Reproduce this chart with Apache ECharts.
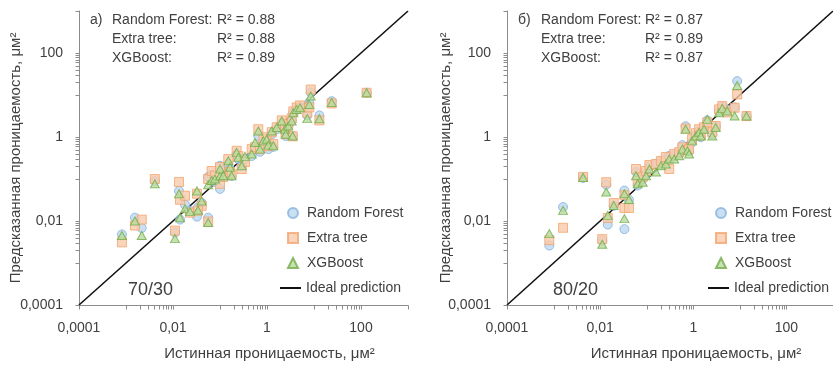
<!DOCTYPE html>
<html>
<head>
<meta charset="utf-8">
<script src="https://cdn.jsdelivr.net/npm/echarts@6/dist/echarts.min.js"></script>
<style>
  html, body { margin: 0; padding: 0; background: #fff; }
  #chart { width: 833px; height: 366px; }
</style>
</head>
<body>
<div id="chart"></div>
<script>
// ---- Split 70/30: true permeability and model predictions (μм²) ----
const trueA = [0.00082, 0.00155, 0.00216, 0.0041, 0.011, 0.0134, 0.0141, 0.018, 0.023, 0.0324,
  0.0408, 0.034, 0.056, 0.056, 0.0665, 0.078, 0.100, 0.100, 0.1175, 0.150,
  0.163, 0.177, 0.226, 0.245, 0.290, 0.340, 0.472, 0.556, 0.653, 0.710,
  0.834, 0.986, 1.07, 1.36, 1.26, 1.61, 2.06, 2.42, 2.50, 2.84,
  3.36, 3.52, 3.63, 4.29, 5.04, 7.20, 7.94, 8.51, 13.0, 23.8, 132];
const rfA = [0.0048, 0.012, 0.0068, 0.090, 0.0053, 0.052, 0.0108, 0.0244, 0.0176, 0.0127,
  0.027, 0.021, 0.012, 0.112, 0.125, 0.085, 0.058, 0.207, 0.155, 0.228,
  0.173, 0.118, 0.392, 0.298, 0.204, 0.298, 0.352, 0.515, 1.04, 0.445,
  0.753, 0.839, 0.515, 0.58, 1.16, 1.53, 2.12, 1.39, 1.06, 1.83,
  2.40, 1.06, 3.79, 4.54, 5.35, 3.27, 6.65, 11.5, 3.27, 7.13, 11.3];
const etA = [0.0031, 0.0078, 0.0108, 0.100, 0.0059, 0.085, 0.032, 0.040, 0.0158, 0.0445,
  0.023, 0.0176, 0.0097, 0.100, 0.155, 0.120, 0.077, 0.193, 0.112, 0.298,
  0.147, 0.132, 0.469, 0.352, 0.173, 0.254, 0.515, 0.574, 1.53, 0.515,
  0.887, 0.988, 0.607, 0.676, 1.30, 1.71, 2.49, 1.61, 1.16, 2.01,
  2.78, 1.04, 4.07, 5.06, 5.65, 3.79, 5.06, 13.5, 2.49, 6.30, 11.3];
const xgbA = [0.0045, 0.0100, 0.0045, 0.077, 0.0038, 0.0445, 0.012, 0.0196, 0.0167, 0.052,
  0.030, 0.018, 0.0092, 0.073, 0.092, 0.100, 0.118, 0.173, 0.120, 0.272,
  0.190, 0.120, 0.431, 0.327, 0.207, 0.346, 0.392, 0.741, 1.39, 0.515,
  0.809, 0.887, 0.640, 0.617, 1.39, 1.68, 2.40, 1.53, 1.16, 1.83,
  2.40, 1.06, 3.79, 4.54, 4.98, 2.74, 5.96, 9.47, 2.71, 6.65, 11.3];

// ---- Split 80/20 ----
const trueB = [0.00081, 0.0016, 0.0043, 0.0111, 0.0135, 0.0146, 0.0196, 0.0332, 0.0332, 0.0415,
  0.059, 0.064, 0.082, 0.097, 0.114, 0.158, 0.202, 0.258, 0.304, 0.389,
  0.498, 0.585, 0.748, 0.684, 0.813, 0.942, 1.13, 1.33, 1.45, 1.70,
  2.00, 2.56, 3.03, 3.56, 4.19, 5.35, 7.71, 8.75, 13.9];
const rfB = [0.0026, 0.0215, 0.106, 0.0034, 0.073, 0.0082, 0.0231, 0.053, 0.0064, 0.032,
  0.147, 0.070, 0.100, 0.132, 0.193, 0.228, 0.254, 0.298, 0.357, 0.352,
  0.392, 0.640, 0.515, 1.80, 0.461, 0.741, 1.10, 1.37, 0.988, 1.53,
  2.49, 1.16, 1.80, 4.07, 5.35, 4.54, 5.06, 21.4, 3.15];
const etB = [0.0035, 0.0069, 0.112, 0.0037, 0.084, 0.0118, 0.0268, 0.041, 0.0204, 0.0204,
  0.173, 0.090, 0.112, 0.155, 0.215, 0.228, 0.268, 0.333, 0.173, 0.392,
  0.438, 0.565, 0.488, 1.59, 0.515, 0.887, 1.23, 1.53, 1.10, 1.71,
  2.24, 1.30, 1.83, 4.54, 5.44, 3.86, 4.98, 10.3, 3.15];
const xgbB = [0.0050, 0.0179, 0.109, 0.0028, 0.049, 0.0136, 0.0235, 0.0445, 0.0114, 0.0326,
  0.120, 0.077, 0.084, 0.120, 0.173, 0.147, 0.207, 0.228, 0.298, 0.298,
  0.357, 0.515, 0.469, 1.53, 0.392, 0.809, 1.06, 1.30, 1.06, 1.53,
  2.63, 1.06, 1.68, 3.79, 4.80, 4.14, 3.15, 16.8, 3.15];

// ---- Text ----
const modelNames = ['Random Forest', 'Extra tree', 'XGBoost'];
const idealName = 'Ideal prediction';
const r2A = ['0.88', '0.88', '0.89'];
const r2B = ['0.87', '0.89', '0.87'];
const panelTags = ['а)', 'б)'];
const splitLabels = ['70/30', '80/20'];
const axisRange = [0.0001, 1000];
const tickLabels = [0.0001, 0.01, 1, 100];
const xTitle = 'Истинная проницаемость, μм²';
const yTitle = 'Предсказанная проницаемость, μм²';

// tick marks: each labelled value plus its 10..90 multiples (log axis, base 100)
const tickValues = [];
tickLabels.forEach(v => {
  tickValues.push(v);
  for (let n = 1; n <= 9; n++) {
    const t = +(v * 10 * n).toPrecision(4);
    if (t <= axisRange[1]) tickValues.push(t);
  }
});

const FONT = 'Liberation Sans, Arial, sans-serif';
const TXT = '#404040';
const AXIS = '#8c8c8c';

const pair = (xs, ys) => xs.map((x, i) => [x, ys[i]]);
const fmt = v => String(+(+v).toPrecision(6)).replace('.', ',');

const styles = [
  { symbol: 'circle', symbolSize: 9, itemStyle: { color: '#BDD7EE', borderColor: '#86B2DE', borderWidth: 1 } },
  { symbol: 'rect', symbolSize: 9, itemStyle: { color: '#F8CBAD', borderColor: '#F4A46C', borderWidth: 1 } },
  { symbol: 'triangle', symbolSize: [9, 8], itemStyle: { color: '#B9DB9F', borderColor: '#70AD47', borderWidth: 1 } }
];

const grids = [
  { left: 79, top: 11, width: 329, height: 296 },
  { left: 507, top: 11, width: 328, height: 296 }
];

function axisCommon(isX, gi) {
  return {
    type: 'log', logBase: 100, gridIndex: gi,
    min: axisRange[0], max: axisRange[1],
    name: isX ? xTitle : yTitle,
    nameLocation: 'middle',
    nameMoveOverlap: false,
    nameGap: isX ? 41 : (gi === 0 ? 56 : 54),
    nameTextStyle: isX
      ? { fontSize: 15, color: TXT, fontFamily: FONT, padding: [0, 0, 0, 52] }
      : { fontSize: 15, color: TXT, fontFamily: FONT },
    axisLine: { show: true, onZero: false, lineStyle: { color: AXIS, width: 1 } },
    axisTick: { show: false },
    axisLabel: { customValues: tickLabels, formatter: fmt, fontSize: 14, color: TXT, fontFamily: FONT, margin: 16 },
    splitLine: { show: false },
    minorTick: { show: false }
  };
}

// small outward tick marks placed through the axis scale
function tickSeries(gi, isX) {
  return {
    type: 'custom', xAxisIndex: gi, yAxisIndex: gi, silent: true, z: 1,
    data: tickValues.map(v => isX ? [v, axisRange[0]] : [axisRange[0], v]),
    renderItem: (params, api) => {
      const p = api.coord([api.value(0), api.value(1)]);
      const x = Math.round(p[0]) + 0.5, y = Math.round(p[1]) + 0.5;
      return {
        type: 'line',
        shape: isX ? { x1: x, y1: y, x2: x, y2: y + 4 } : { x1: x - 4, y1: y, x2: x, y2: y },
        style: { stroke: AXIS, lineWidth: 1 }
      };
    }
  };
}

const datasets = [
  { x: trueA, ys: [rfA, etA, xgbA] },
  { x: trueB, ys: [rfB, etB, xgbB] }
];

const series = [];
datasets.forEach((d, gi) => {
  d.ys.forEach((ys, k) => {
    series.push(Object.assign({
      type: 'scatter', name: modelNames[k],
      xAxisIndex: gi, yAxisIndex: gi,
      data: pair(d.x, ys),
      z: 3 + k
    }, styles[k]));
  });
  series.push({
    type: 'line', name: idealName,
    xAxisIndex: gi, yAxisIndex: gi,
    data: [[axisRange[0], axisRange[0]], [axisRange[1], axisRange[1]]],
    symbol: 'none',
    lineStyle: { color: '#111', width: 1.6 },
    itemStyle: { color: '#111' },
    z: 2
  });
  series.push(tickSeries(gi, true), tickSeries(gi, false));
});

// marker legend + separate line legend for each panel
function markerLegend(left) {
  return {
    left: left, top: 201, orient: 'vertical', padding: 5,
    itemWidth: 10, itemHeight: 10, itemGap: 11,
    data: modelNames.map((n, k) => ({ name: n, icon: styles[k].symbol })),
    textStyle: { fontSize: 14, color: TXT, fontFamily: FONT, padding: [0, 0, 0, 4] },
    selectedMode: false
  };
}
function lineLegend(left) {
  return {
    left: left, top: 276, orient: 'vertical', padding: 5,
    itemWidth: 21, itemHeight: 2,
    data: [{ name: idealName, icon: 'rect' }],
    textStyle: { fontSize: 14, color: TXT, fontFamily: FONT },
    selectedMode: false
  };
}

function textEl(x, y, s, size) {
  return { type: 'text', x: x, y: y, style: { text: s, fontSize: size || 14, fontFamily: FONT, fill: TXT, verticalAlign: 'middle' } };
}

const graphic = [];
[[r2A, 90, 112, 217, 128], [r2B, 518, 541, 645, 553]].forEach(([r2, tagX, nameX, rX, splitX], gi) => {
  graphic.push(textEl(tagX, 20, panelTags[gi]));
  modelNames.forEach((nm, k) => {
    graphic.push(textEl(nameX, 20 + 19 * k, nm + ':'));
    graphic.push(textEl(rX, 20 + 19 * k, 'R² = ' + r2[k]));
  });
  graphic.push(textEl(splitX, 290, splitLabels[gi], 18));
});

const chart = echarts.init(document.getElementById('chart'), null, { renderer: 'canvas' });
chart.setOption({
  animation: false,
  backgroundColor: '#fff',
  grid: grids,
  xAxis: [axisCommon(true, 0), axisCommon(true, 1)],
  yAxis: [axisCommon(false, 0), axisCommon(false, 1)],
  legend: [markerLegend(282), lineLegend(275), markerLegend(710), lineLegend(703)],
  graphic: graphic,
  series: series
});
</script>
</body>
</html>
